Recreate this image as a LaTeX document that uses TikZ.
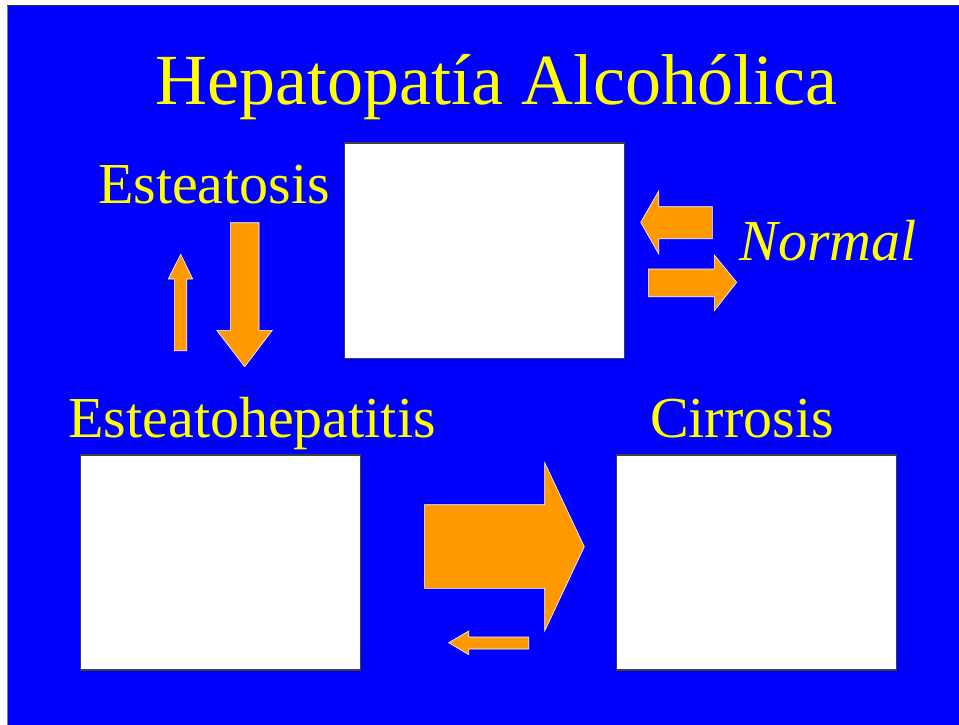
\documentclass[tikz,border=0pt]{standalone}
\usepackage{fontspec}
\setmainfont{Liberation Serif}
\definecolor{bgblue}{RGB}{0,0,255}
\definecolor{ttl}{RGB}{255,255,0}
\definecolor{arr}{RGB}{255,153,0}
\begin{document}
\begin{tikzpicture}[x=1pt,y=-1pt,
  lbl/.style={text=ttl,anchor=base,inner sep=0pt,font=\fontsize{58}{64}\selectfont},
  imgbox/.style={draw=black!75,line width=1.3pt,fill=white},
  blockarrow/.style={fill=arr,draw=white,line width=0.6pt,line join=miter}]
\useasboundingbox (0,0) rectangle (959,725);
\fill[white] (0,0) rectangle (959,725);
\fill[bgblue] (7,6) rectangle (959,725);
\draw[black!80,line width=1.2pt] (7,5.6) -- (959,5.6);
\draw[black!50,line width=0.8pt] (7,6) -- (7,725);
% title and labels
\node[lbl,font=\fontsize{72}{78}\selectfont] (title) at (496,104.3) {Hepatopatía Alcohólica};
\node[lbl] (est) at (214,203.7) {Esteatosis};
\node[lbl] (esth) at (252,437) {Esteatohepatitis};
\node[lbl] (cirr) at (742,437) {Cirrosis};
\node[lbl,font=\fontsize{58}{64}\selectfont\itshape] (norm) at (828,260) {Normal};
% image boxes
\draw[imgbox] (344.5,143) rectangle (624.5,358.5);
\draw[imgbox] (80.5,455) rectangle (360.5,670);
\draw[imgbox] (616.5,455) rectangle (896.5,670);
% block arrows
\draw[blockarrow] (640.7,222.3) -- (658.7,191) -- (658.7,206.7) -- (712.3,206.7) -- (712.3,238.7) -- (658.7,238.7) -- (658.7,254) -- cycle;
\draw[blockarrow] (736.7,282.3) -- (714.3,310.7) -- (714.3,296.7) -- (648.3,296.7) -- (648.3,269) -- (714.3,269) -- (714.3,255) -- cycle;
\draw[blockarrow] (180.7,254.3) -- (192.7,279) -- (186.7,279) -- (186.7,350.7) -- (174.3,350.7) -- (174.3,279) -- (168.3,279) -- cycle;
\draw[blockarrow] (244.7,366.7) -- (216.7,330.3) -- (230.3,330.3) -- (230.3,222.7) -- (259,222.7) -- (259,330.3) -- (272.3,330.3) -- cycle;
\draw[blockarrow] (584.3,546.7) -- (544.7,631) -- (544.7,588.3) -- (424.3,588.3) -- (424.3,504.7) -- (544.7,504.7) -- (544.7,462.7) -- cycle;
\draw[blockarrow] (448.7,642.7) -- (468.7,631) -- (468.7,637) -- (528.7,637) -- (528.7,649) -- (468.7,649) -- (468.7,654.7) -- cycle;
\end{tikzpicture}
\end{document}
